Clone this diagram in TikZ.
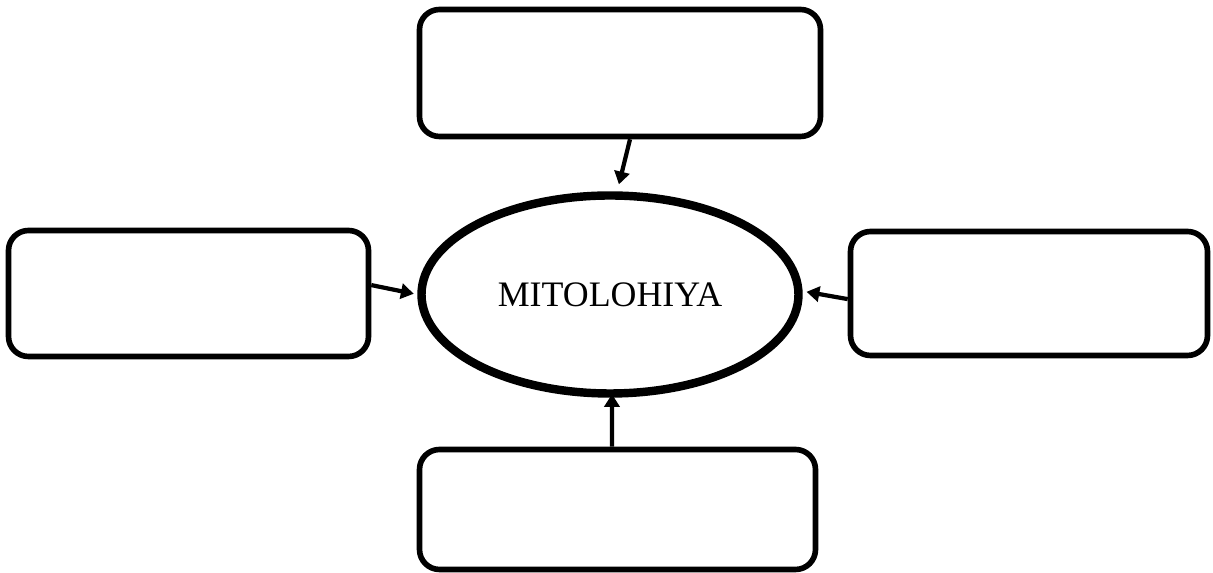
\documentclass[tikz,border=0pt]{standalone}
\usepackage{fontspec}
\setmainfont{Liberation Serif}
\usetikzlibrary{shapes.geometric,arrows.meta}
\tikzset{
box/.style={draw,rectangle,rounded corners=0.5cm,line width=4pt,inner sep=0pt},
link/.style={line width=3pt,-{Triangle[length=0.32cm,width=0.38cm]}}
}
\begin{document}
\begin{tikzpicture}
\useasboundingbox (0,0) rectangle (30.325,14.325);
\node[draw,ellipse,line width=6pt,inner sep=0pt,minimum width=9.425cm,minimum height=4.95cm,font=\fontsize{25.5}{30}\selectfont] (M) at (15.25,6.9625) {MITOLOHIYA};
\node[box,minimum width=10.025cm,minimum height=3.175cm] (T) at (15.5,12.5) {};
\node[box,minimum width=9cm,minimum height=3.15cm] (L) at (4.7125,6.9875) {};
\node[box,minimum width=8.925cm,minimum height=3.1cm] (R) at (25.725,6.9875) {};
\node[box,minimum width=9.9cm,minimum height=3cm] (B) at (15.4375,1.5875) {};
\draw[link,shorten >=0.18cm]([xshift=0.25cm]T.south)--(M.86);
\draw[link,shorten >=0.09cm]([yshift=0.21cm]L.east)--(M.west);
\draw[link,shorten >=0.1cm]([yshift=-0.14cm]R.west)--(M.1);
\draw[link,shorten >=-0.09cm]([xshift=-0.14cm]B.north)--([xshift=0.05cm]M.south);
\end{tikzpicture}
\end{document}
